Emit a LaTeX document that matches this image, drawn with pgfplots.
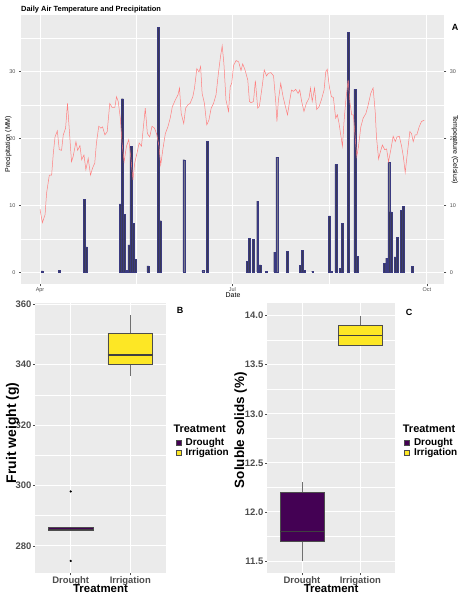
\documentclass[border=0pt]{standalone}
\usepackage{fontspec}
\setmainfont{Liberation Sans}
\usepackage{pgfplots}
\pgfplotsset{compat=1.18}
\definecolor{ggbg}{HTML}{EBEBEB}
\definecolor{tickc}{HTML}{4D4D4D}
\definecolor{droughtc}{HTML}{440154}
\definecolor{irrigc}{HTML}{FDE725}
\definecolor{barfill}{HTML}{3A3A55}
\definecolor{barline}{HTML}{3A3A80}
\definecolor{tempc}{HTML}{FF7F7F}
\definecolor{boxline}{HTML}{4D4D4D}
\definecolor{whisk}{HTML}{707070}
\newcommand\fs[1]{\fontsize{#1}{#1}\selectfont}

\pgfplotstableread{
d p
1 0.2
9 0.3
21 10.9
22 3.8
38 10.2
39 25.9
40 8.6
41 0.25
42 4.1
43 18.8
44 7.3
45 1.9
51 0.95
56 36.6
57 7.7
68 16.8
77 0.25
79 19.5
98 1.6
99 5.1
101 4.9
103 10.6
104 1.1
107 0.15
111 3.0
112 17.2
117 3.1
123 1.0
124 3.3
125 0.25
129 0.15
137 8.4
138 0.15
140 16.1
142 0.6
143 7.3
146 35.8
149 27.3
150 2.4
163 1.3
164 2.1
165 16.4
166 9.0
168 2.3
169 5.2
171 9.2
172 9.8
176 0.85
}\precip

\pgfplotstableread{
d t
0 9.4
1.1 7.4
2.4 8.6
3.1 11.8
4.4 14.5
5.5 14.5
6.3 17.8
7.1 20.2
8.2 21.1
9.1 18.3
10.2 18.2
11 20.5
12.1 21.5
13 25.2
13.8 21.5
14.9 16.5
15.7 17.3
17 19.5
17.8 18.2
18.9 18.9
19.7 16.8
20.8 17.5
21.7 15.3
22.8 17.0
23.9 14.5
24.8 15.5
25.9 16.3
26.7 19.3
27.8 21.8
28.8 21.5
29.6 21.7
30.7 20.5
31.8 21.0
33 25.2
34.1 24.6
35.4 24.6
36.2 26.2
37 25.5
38 23.0
38.8 19.3
39.8 16.5
40.9 18.8
42 19.8
42.9 17.3
44 13.8
44.8 16.3
45.9 17.8
46.9 19.3
48 18.8
48.7 21.0
49.8 24.5
50.8 20.7
51.9 20.2
53 21.8
54.2 21.5
55.3 20.5
56.3 18.8
57.1 16.0
58.2 18.5
59.3 20.7
60.5 21.7
61.6 23.0
62.6 24.7
64 25.7
65.3 26.5
66 27.5
66.8 23.7
68 22.2
68.9 24.5
70 25.0
71 25.2
72.3 26.2
73.1 27.5
74.2 30.4
75.2 29.9
76 30.7
76.7 26.7
77.8 25.2
78.9 22.0
79.9 22.7
81 24.5
82.1 25.2
83.3 26.5
84.4 29.7
85.4 32.2
86.2 33.8
87 31.2
88 25.7
89.2 24.0
90 27.7
90.7 28.2
91.6 30.9
92.8 31.6
94 31.4
95.1 30.1
95.9 31.1
97 30.2
98.3 28.7
99.1 25.5
99.9 25.3
101 25.5
101.9 28.6
103 24.5
103.8 24.8
104.9 27.2
106.1 30.2
107.2 29.3
108 29.7
109.3 29.8
110.5 29.3
111.6 25.2
112.1 22.5
112.8 25.7
113.9 28.2
115 26.2
116.3 24.5
117.1 23.5
118.2 25.7
119 27.2
119.9 27.0
121 27.3
122.1 26.7
122.9 27.2
123.8 25.5
124.9 24.0
126 25.2
127.3 26.0
128 27.5
128.8 25.5
129.9 27.5
130.9 24.3
132 24.7
133.1 25.7
134.4 27.2
135.2 29.9
135.9 30.3
137 27.5
137.9 26.2
138.8 26.1
139.9 23.0
140.7 23.5
141.5 22.2
143.1 18.8
143.9 22.7
144.7 25.7
145.8 28.7
146.7 25.2
147.5 23.5
148.3 23.5
149.1 20.2
149.9 17.3
150.7 18.8
151.8 21.7
152.9 23.0
154.2 23.7
155.3 25.0
156.5 26.7
157.6 27.5
158.6 24.0
159.2 20.2
160.2 16.9
160.9 17.8
162 19.0
163.1 18.3
164 18.4
164.9 16.5
166 18.3
167.1 20.3
168.1 19.5
168.9 20.2
170 20.3
171.1 18.8
171.9 17.3
172.8 14.9
173.9 18.0
175 21.0
175.8 20.7
176.6 19.5
177.5 20.5
178.3 20.5
179.4 21.7
180.5 22.5
181.8 22.7
}\temper

\pgfplotsset{
  ggbase/.style={
    scale only axis,
    anchor=south west,
    axis background/.style={fill=ggbg},
    axis line style={draw=none},
    grid=both,
    major grid style={white, line width=0.9bp},
    minor grid style={white, line width=0.45bp},
    tick align=outside,
    major tick length=2bp,
    minor tick length=0pt,
    tick style={draw=tickc, line width=0.5bp},
    tick pos=left,
  },
  boxax/.style={
    ggbase,
    width=131bp, height=270bp,
    xmin=0.4, xmax=2.6,
    xtick={1,2}, xticklabels={Drought,Irrigation},
    minor xtick={},
    ticklabel style={font=\bfseries\fs{9.5}, text=tickc},
    yticklabel style={inner sep=1.5bp},
    xticklabel style={inner sep=1bp},
    xlabel={Treatment},
    xlabel style={font=\bfseries\fs{11.5}, at={(axis description cs:0.5,-0.057)}, anchor=center},
    legend cell align=left,
  },
  boxfill/.style={draw=boxline, line width=0.7bp},
  medline/.style={draw=black!75, line width=1.3bp},
  whline/.style={draw=whisk, line width=0.8bp},
}

\begin{document}
\begin{tikzpicture}
\useasboundingbox (0bp,0bp) rectangle (465bp,600bp);
\fill[white] (0bp,0bp) rectangle (465bp,600bp);

% Panel A: precipitation bars
\begin{axis}[ggbase,
  at={(21bp,315.7bp)},
  width=423.3bp, height=269.3bp,
  xmin=-9.0, xmax=191.3, ymin=-1.8, ymax=38.4,
  xtick={0,91,183}, xticklabels={Apr,Jul,Oct},
  minor xtick={45.5,137},
  ytick={0,10,20,30}, yticklabels={0,10,20,30},
  minor ytick={5,15,25,35},
  ticklabel style={font=\fs{5.5}, text=tickc},
  xticklabel style={inner sep=1bp},
  xlabel={Date}, ylabel={Precipitation (MM)},
  label style={font=\fs{7}},
  xlabel style={at={(axis description cs:0.501,-0.041)}, anchor=center},
  ylabel style={at={(axis description cs:-0.030,0.52)}, anchor=center},
]
\addplot[ybar, bar width=0.9, fill=barfill, draw=barline, line width=0.3bp] table[x=d, y=p] {\precip};
\end{axis}

% Panel A: temperature line on secondary axis
\begin{axis}[scale only axis, anchor=south west,
  at={(21bp,315.7bp)},
  width=423.3bp, height=269.3bp,
  xmin=-9.0, xmax=191.3, ymin=-1.8, ymax=38.4,
  hide x axis,
  axis line style={draw=none},
  ytick={0,10,20,30}, yticklabels={0,10,20,30},
  ytick pos=right, yticklabel pos=right,
  tick align=outside, major tick length=2bp,
  tick style={draw=tickc, line width=0.5bp},
  ticklabel style={font=\fs{5.5}, text=tickc},
  ylabel={Temperature (Celsius)},
  ylabel style={font=\fs{7}, at={(axis description cs:1.025,0.5)}, anchor=center, rotate=180},
]
\addplot[tempc, line width=0.5bp] table[x=d, y=t] {\temper};
\end{axis}

% Panel B
\begin{axis}[boxax,
  at={(35bp,26.7bp)},
  ymin=270.9, ymax=360.3,
  ytick={280,300,320,340,360}, yticklabels={280,300,320,340,360},
  minor ytick={270,290,310,330,350},
  ylabel={Fruit weight (g)},
  ylabel style={font=\bfseries\fs{14}, at={(axis description cs:-0.172,0.52)}, anchor=center},
  legend image code/.code={\draw[#1] (0bp,-2.5bp) rectangle (5bp,2.5bp); \path[draw=none, fill=none] (0bp,0bp) -- (8.5bp,0bp);},
  legend style={at={(axis description cs:1.073,0.502)}, anchor=north west, draw=none, fill=none,
    inner sep=0pt, row sep=0.3bp, font=\bfseries\fs{10},
    nodes={inner sep=1bp, text height=6.5bp, text depth=1bp}},
]
% whiskers
\addplot[forget plot, whline] coordinates {(2,350.3) (2,356.3)};
\addplot[forget plot, whline] coordinates {(2,336.2) (2,340)};
% boxes
\addplot[forget plot, boxfill, fill=droughtc] coordinates {(0.625,285) (1.375,285) (1.375,286) (0.625,286) (0.625,285)};
\addplot[forget plot, boxfill, fill=irrigc] coordinates {(1.625,340) (2.375,340) (2.375,350.3) (1.625,350.3) (1.625,340)};
% medians
\addplot[forget plot, medline] coordinates {(0.625,285.5) (1.375,285.5)};
\addplot[forget plot, medline] coordinates {(1.625,343.2) (2.375,343.2)};
% outliers
\addplot[forget plot, only marks, mark=*, mark size=0.9bp, black] coordinates {(1,298) (1,275)};
\addlegendimage{fill=droughtc, draw=boxline, line width=0.6bp}
\addlegendentry{Drought}
\addlegendimage{fill=irrigc, draw=boxline, line width=0.6bp}
\addlegendentry{Irrigation}
\end{axis}

% Panel C
\begin{axis}[boxax,
  at={(267bp,26.7bp)},
  width=128.3bp,
  ymin=11.375, ymax=14.125,
  ytick={11.5,12,12.5,13,13.5,14}, yticklabels={11.5,12.0,12.5,13.0,13.5,14.0},
  minor ytick={11.75,12.25,12.75,13.25,13.75},
  ylabel={Soluble solids (\%)},
  ylabel style={font=\bfseries\fs{13.5}, at={(axis description cs:-0.205,0.53)}, anchor=center},
  legend image code/.code={\draw[#1] (0bp,-2.5bp) rectangle (5bp,2.5bp); \path[draw=none, fill=none] (0bp,0bp) -- (8.5bp,0bp);},
  legend style={at={(axis description cs:1.068,0.502)}, anchor=north west, draw=none, fill=none,
    inner sep=0pt, row sep=0.3bp, font=\bfseries\fs{10},
    nodes={inner sep=1bp, text height=6.5bp, text depth=1bp}},
]
\addplot[forget plot, whline] coordinates {(1,12.2) (1,12.3)};
\addplot[forget plot, whline] coordinates {(1,11.5) (1,11.7)};
\addplot[forget plot, whline] coordinates {(2,13.9) (2,14.0)};
\addplot[forget plot, boxfill, fill=droughtc] coordinates {(0.625,11.7) (1.375,11.7) (1.375,12.2) (0.625,12.2) (0.625,11.7)};
\addplot[forget plot, boxfill, fill=irrigc] coordinates {(1.625,13.7) (2.375,13.7) (2.375,13.9) (1.625,13.9) (1.625,13.7)};
\addplot[forget plot, medline] coordinates {(0.625,11.8) (1.375,11.8)};
\addplot[forget plot, medline] coordinates {(1.625,13.8) (2.375,13.8)};
\addlegendimage{fill=droughtc, draw=boxline, line width=0.6bp}
\addlegendentry{Drought}
\addlegendimage{fill=irrigc, draw=boxline, line width=0.6bp}
\addlegendentry{Irrigation}
\end{axis}

% titles and panel letters
\node[anchor=west, inner sep=0pt, font=\bfseries\fs{7.5}] at (21bp,590.7bp) {Daily Air Temperature and Precipitation};
\node[inner sep=0pt, font=\bfseries\fs{9}] at (455bp,573bp) {A};
\node[inner sep=0pt, font=\bfseries\fs{9}] at (180bp,289.7bp) {B};
\node[inner sep=0pt, font=\bfseries\fs{9}] at (409bp,287.2bp) {C};
\node[anchor=west, inner sep=0pt, font=\bfseries\fs{11}] at (173.3bp,171.7bp) {Treatment};
\node[anchor=west, inner sep=0pt, font=\bfseries\fs{11}] at (402.7bp,171.7bp) {Treatment};
\end{tikzpicture}
\end{document}
